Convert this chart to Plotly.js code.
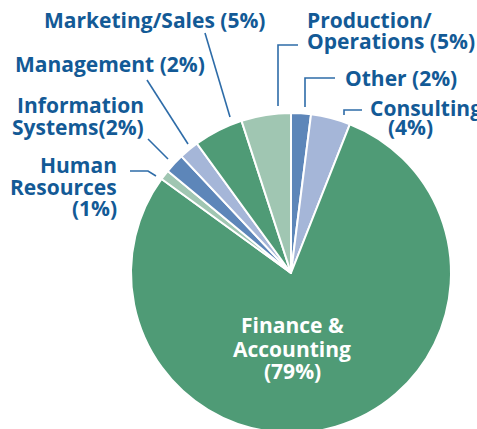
<!DOCTYPE html>
<html>
<head>
<meta charset="utf-8">
<script src="https://cdn.plot.ly/plotly-3.0.1.min.js"></script>
<style>
html,body{margin:0;padding:0;overflow:hidden;background:#fff;}
#chart{width:477px;height:440px;}
</style>
</head>
<body>
<div id="chart"></div>
<script>
const categories = ["Other", "Consulting", "Finance & Accounting", "Human Resources", "Information Systems", "Management", "Marketing/Sales", "Production/Operations"];
const values = [2, 4, 79, 1, 2, 2, 5, 5];
const labelLines = [
  ["Other (2%)"],
  ["Consulting", "(4%)"],
  ["Finance &", "Accounting", "(79%)"],
  ["Human", "Resources", "(1%)"],
  ["Information", "Systems(2%)"],
  ["Management (2%)"],
  ["Marketing/Sales (5%)"],
  ["Production/", "Operations (5%)"]
];
const colors = ["#5d86b9", "#a5b6d8", "#4f9b76", "#a0c6b2", "#5d86b9", "#a5b6d8", "#4f9b76", "#a0c6b2"];

const W = 477, H = 440;
const px = x => x / W;
const py = y => 1 - y / H;
const FONT = "Open Sans, sans-serif";
const TXT = "#135a96";
const LINE = "#2e6ca8";

// per-line placements (pixels): list of [x, y] per line, plus anchor and colour
const place = [
  {pts: [[343, 78]], anchor: "left", color: TXT},
  {pts: [[368, 108], [410, 127]], anchor: ["left", "center"], color: TXT},
  {pts: [[292, 325], [292, 349], [292, 371]], anchor: "center", color: "#ffffff"},
  {pts: [[119, 165], [119, 187], [119, 208]], anchor: "right", color: TXT},
  {pts: [[146, 105], [146, 127]], anchor: "right", color: TXT},
  {pts: [[13, 64]], anchor: "left", color: TXT},
  {pts: [[42, 20]], anchor: "left", color: TXT},
  {pts: [[305, 20], [305, 41]], anchor: "left", color: TXT}
];

const annotations = [];
labelLines.forEach((lines, i) => {
  lines.forEach((t, j) => {
    const p = place[i].pts[j];
    const a = Array.isArray(place[i].anchor) ? place[i].anchor[j] : place[i].anchor;
    annotations.push({
      xref: "paper", yref: "paper",
      x: px(p[0]), y: py(p[1]),
      xanchor: a, yanchor: "middle",
      text: "<b>" + t + "</b>", showarrow: false,
      font: {family: FONT, size: 21, color: place[i].color}
    });
  });
});

const leaders = [
  [[335, 78], [305, 78], [305, 107]],
  [[362, 110], [344, 110], [344, 115]],
  null,
  [[130, 171], [148, 171], [156, 176]],
  [[148, 139], [168, 159]],
  [[147, 80], [188, 144]],
  [[205, 33], [230, 117]],
  [[298, 45], [278, 45], [278, 106]]
];
const shapes = leaders.filter(Boolean).map(pts => ({
  type: "path", xref: "paper", yref: "paper",
  path: pts.map((p, k) => (k ? "L" : "M") + px(p[0]) + "," + py(p[1])).join(" "),
  line: {color: LINE, width: 1.6}
}));

const trace = {
  type: "pie",
  labels: categories,
  values: values,
  sort: false,
  direction: "clockwise",
  rotation: 0,
  textinfo: "none",
  hoverinfo: "label+percent",
  marker: {colors: colors, line: {color: "#ffffff", width: 2}},
  domain: {x: [px(131), px(451)], y: [py(433), py(113)]},
  showlegend: false
};

Plotly.newPlot("chart", [trace], {
  width: W, height: H,
  margin: {l: 0, r: 0, t: 0, b: 0},
  paper_bgcolor: "#ffffff",
  showlegend: false,
  annotations: annotations,
  shapes: shapes
}, {displayModeBar: false, staticPlot: true});
</script>
</body>
</html>
